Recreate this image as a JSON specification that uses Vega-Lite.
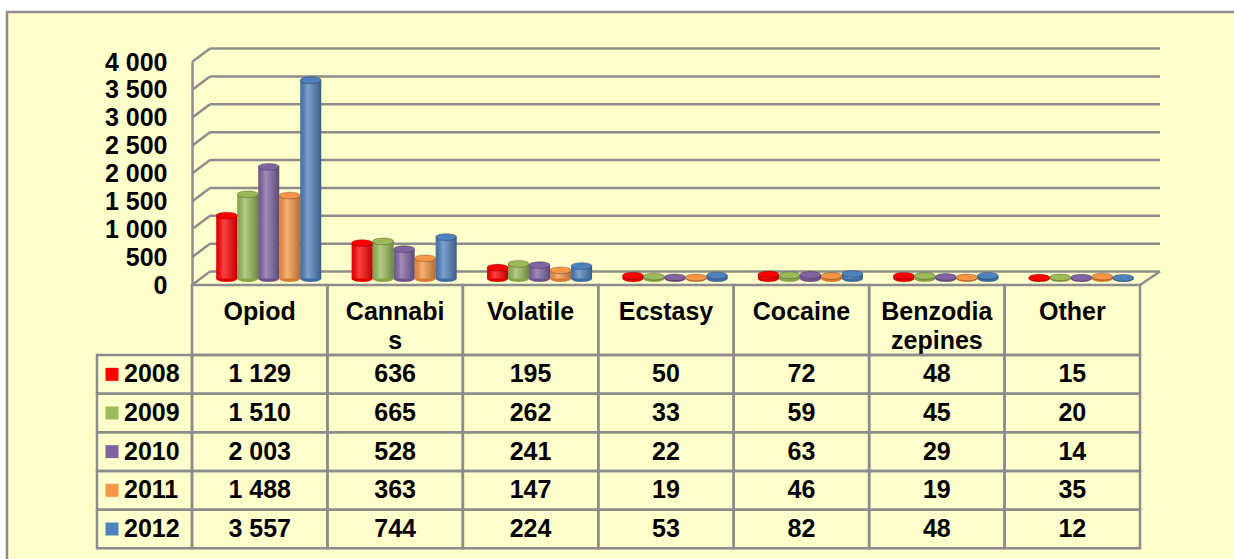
{
  "$schema": "https://vega.github.io/schema/vega-lite/v6.json",
  "width": 1232,
  "height": 552,
  "autosize": {"type": "none"},
  "padding": {"left": 7, "top": 12, "right": -5, "bottom": -5},
  "background": "#ffffff",
  "config": {
    "view": {"fill": "#FFFFCC", "stroke": "#8c8c8c", "strokeWidth": 2.5},
    "locale": {"number": {"decimal": ".", "thousands": " ", "grouping": [3], "currency": ["", ""]}},
    "font": "Liberation Sans"
  },
  "datasets": {
    "main": [
      {"cat": "Opiod", "year": "2008", "value": 1129},
      {"cat": "Opiod", "year": "2009", "value": 1510},
      {"cat": "Opiod", "year": "2010", "value": 2003},
      {"cat": "Opiod", "year": "2011", "value": 1488},
      {"cat": "Opiod", "year": "2012", "value": 3557},
      {"cat": "Cannabis", "year": "2008", "value": 636},
      {"cat": "Cannabis", "year": "2009", "value": 665},
      {"cat": "Cannabis", "year": "2010", "value": 528},
      {"cat": "Cannabis", "year": "2011", "value": 363},
      {"cat": "Cannabis", "year": "2012", "value": 744},
      {"cat": "Volatile", "year": "2008", "value": 195},
      {"cat": "Volatile", "year": "2009", "value": 262},
      {"cat": "Volatile", "year": "2010", "value": 241},
      {"cat": "Volatile", "year": "2011", "value": 147},
      {"cat": "Volatile", "year": "2012", "value": 224},
      {"cat": "Ecstasy", "year": "2008", "value": 50},
      {"cat": "Ecstasy", "year": "2009", "value": 33},
      {"cat": "Ecstasy", "year": "2010", "value": 22},
      {"cat": "Ecstasy", "year": "2011", "value": 19},
      {"cat": "Ecstasy", "year": "2012", "value": 53},
      {"cat": "Cocaine", "year": "2008", "value": 72},
      {"cat": "Cocaine", "year": "2009", "value": 59},
      {"cat": "Cocaine", "year": "2010", "value": 63},
      {"cat": "Cocaine", "year": "2011", "value": 46},
      {"cat": "Cocaine", "year": "2012", "value": 82},
      {"cat": "Benzodiazepines", "year": "2008", "value": 48},
      {"cat": "Benzodiazepines", "year": "2009", "value": 45},
      {"cat": "Benzodiazepines", "year": "2010", "value": 29},
      {"cat": "Benzodiazepines", "year": "2011", "value": 19},
      {"cat": "Benzodiazepines", "year": "2012", "value": 48},
      {"cat": "Other", "year": "2008", "value": 15},
      {"cat": "Other", "year": "2009", "value": 20},
      {"cat": "Other", "year": "2010", "value": 14},
      {"cat": "Other", "year": "2011", "value": 35},
      {"cat": "Other", "year": "2012", "value": 12}
    ],
    "ticks": [{"v": 0}, {"v": 500}, {"v": 1000}, {"v": 1500}, {"v": 2000}, {"v": 2500}, {"v": 3000}, {"v": 3500}, {"v": 4000}],
    "cats": [
      {"cat": "Opiod", "label": "Opiod"},
      {"cat": "Cannabis", "label": "Cannabi\ns"},
      {"cat": "Volatile", "label": "Volatile"},
      {"cat": "Ecstasy", "label": "Ecstasy"},
      {"cat": "Cocaine", "label": "Cocaine"},
      {"cat": "Benzodiazepines", "label": "Benzodia\nzepines"},
      {"cat": "Other", "label": "Other"}
    ],
    "years": [{"year": "2008"}, {"year": "2009"}, {"year": "2010"}, {"year": "2011"}, {"year": "2012"}]
  },
  "resolve": {"scale": {"x": "independent", "y": "independent", "color": "independent", "xOffset": "independent"}},
  "layer": [
    {
      "data": {"name": "ticks"},
      "mark": {"type": "rule", "color": "#8c8c8c", "strokeWidth": 2.5},
      "encoding": {
        "x": {"datum": "Opiod", "bandPosition": 0, "type": "nominal", "scale": {"domain": ["Opiod", "Cannabis", "Volatile", "Ecstasy", "Cocaine", "Benzodiazepines", "Other"], "range": [203, 1153], "paddingInner": 0, "paddingOuter": 0}, "axis": null},
        "x2": {"datum": "Other", "bandPosition": 1},
        "y": {"field": "v", "type": "quantitative", "scale": {"domain": [0, 4000], "range": [259.5, 36.5], "nice": false}, "axis": null}
      }
    },
    {
      "data": {"name": "ticks"},
      "mark": {"type": "rule", "color": "#8c8c8c", "strokeWidth": 2.5, "x2Offset": 18, "y2Offset": -13.5},
      "encoding": {
        "x": {"datum": "Opiod", "bandPosition": 0, "type": "nominal", "scale": {"domain": ["Opiod", "Cannabis", "Volatile", "Ecstasy", "Cocaine", "Benzodiazepines", "Other"], "range": [185, 1133], "paddingInner": 0, "paddingOuter": 0}, "axis": null},
        "x2": {"datum": "Opiod", "bandPosition": 0},
        "y": {
          "field": "v", "type": "quantitative",
          "scale": {"domain": [0, 4000], "range": [273, 50], "nice": false},
          "axis": {"orient": "left", "offset": -185, "values": [0, 500, 1000, 1500, 2000, 2500, 3000, 3500, 4000], "format": ",.0f", "ticks": false, "tickSize": 0, "labelPadding": 25, "labelFont": "Liberation Sans", "labelFontSize": 25, "labelFontWeight": "bold", "labelColor": "#000000", "domainColor": "#8c8c8c", "domainWidth": 2.5, "grid": false, "title": null, "labelOverlap": false}
        },
        "y2": {"field": "v"}
      }
    },
    {
      "data": {"name": "ticks"},
      "transform": [{"filter": "datum.v == 0"}],
      "mark": {"type": "rule", "color": "#8c8c8c", "strokeWidth": 2.5, "x2Offset": 20, "y2Offset": -13.5},
      "encoding": {
        "x": {"datum": "Other", "bandPosition": 1, "type": "nominal", "scale": {"domain": ["Opiod", "Cannabis", "Volatile", "Ecstasy", "Cocaine", "Benzodiazepines", "Other"], "range": [185, 1133], "paddingInner": 0, "paddingOuter": 0}, "axis": null},
        "x2": {"datum": "Other", "bandPosition": 1},
        "y": {"field": "v", "type": "quantitative", "scale": {"domain": [0, 4000], "range": [273, 50], "nice": false}, "axis": null},
        "y2": {"field": "v"}
      }
    },
    {
      "data": {"name": "main"},
      "mark": {"type": "point", "shape": "M-1,0C-1,-0.43,1,-0.43,1,0C1,0.43,-1,0.43,-1,0Z", "size": 441, "filled": true, "opacity": 1},
      "encoding": {
        "x": {"field": "cat", "type": "nominal", "scale": {"type": "band", "domain": ["Opiod", "Cannabis", "Volatile", "Ecstasy", "Cocaine", "Benzodiazepines", "Other"], "range": [194, 1142], "paddingInner": 0, "paddingOuter": 0}, "axis": null},
        "xOffset": {"field": "year", "type": "nominal", "scale": {"type": "band", "domain": ["2008", "2009", "2010", "2011", "2012"], "paddingInner": 0, "paddingOuter": 0.724}},
        "y": {"datum": 0, "type": "quantitative", "scale": {"domain": [0, 4000], "range": [266.5, 43.5], "nice": false}, "axis": null},
        "color": {"field": "year", "type": "nominal", "scale": {"domain": ["2008", "2009", "2010", "2011", "2012"], "range": ["#E00000", "#86A447", "#6C528C", "#D9792F", "#3C6AA3"]}, "legend": null}
      }
    },
    {
      "data": {"name": "main"},
      "mark": {"type": "bar"},
      "encoding": {
        "x": {"field": "cat", "type": "nominal", "scale": {"type": "band", "domain": ["Opiod", "Cannabis", "Volatile", "Ecstasy", "Cocaine", "Benzodiazepines", "Other"], "range": [194, 1142], "paddingInner": 0, "paddingOuter": 0}, "axis": null},
        "xOffset": {"field": "year", "type": "nominal", "scale": {"type": "band", "domain": ["2008", "2009", "2010", "2011", "2012"], "paddingInner": 0, "paddingOuter": 0.724}},
        "y": {"field": "value", "type": "quantitative", "scale": {"domain": [0, 4000], "range": [266.5, 43.5], "nice": false}, "axis": null},
        "color": {"field": "year", "type": "nominal", "scale": {"domain": ["2008", "2009", "2010", "2011", "2012"], "range": ["#FF0000", "#9BBB59", "#8064A2", "#F79646", "#4F81BD"]}, "legend": null}
      }
    },
    {
      "data": {"name": "main"},
      "mark": {"type": "bar", "fill": {"gradient": "linear", "x1": 0, "y1": 0, "x2": 1, "y2": 0, "stops": [{"offset": 0, "color": "rgba(0,0,0,0.12)"}, {"offset": 0.35, "color": "rgba(255,255,255,0.25)"}, {"offset": 1, "color": "rgba(0,0,0,0.28)"}]}},
      "encoding": {
        "x": {"field": "cat", "type": "nominal", "scale": {"type": "band", "domain": ["Opiod", "Cannabis", "Volatile", "Ecstasy", "Cocaine", "Benzodiazepines", "Other"], "range": [194, 1142], "paddingInner": 0, "paddingOuter": 0}, "axis": null},
        "xOffset": {"field": "year", "type": "nominal", "scale": {"type": "band", "domain": ["2008", "2009", "2010", "2011", "2012"], "paddingInner": 0, "paddingOuter": 0.724}},
        "y": {"field": "value", "type": "quantitative", "scale": {"domain": [0, 4000], "range": [266.5, 43.5], "nice": false}, "axis": null}
      }
    },
    {
      "data": {"name": "main"},
      "mark": {"type": "point", "shape": "M-1,0C-1,-0.43,1,-0.43,1,0C1,0.43,-1,0.43,-1,0Z", "size": 441, "filled": true, "opacity": 1, "stroke": "rgba(0,0,0,0.25)", "strokeWidth": 1},
      "encoding": {
        "x": {"field": "cat", "type": "nominal", "scale": {"type": "band", "domain": ["Opiod", "Cannabis", "Volatile", "Ecstasy", "Cocaine", "Benzodiazepines", "Other"], "range": [194, 1142], "paddingInner": 0, "paddingOuter": 0}, "axis": null},
        "xOffset": {"field": "year", "type": "nominal", "scale": {"type": "band", "domain": ["2008", "2009", "2010", "2011", "2012"], "paddingInner": 0, "paddingOuter": 0.724}},
        "y": {"field": "value", "type": "quantitative", "scale": {"domain": [0, 4000], "range": [266.5, 43.5], "nice": false}, "axis": null},
        "color": {"field": "year", "type": "nominal", "scale": {"domain": ["2008", "2009", "2010", "2011", "2012"], "range": ["#FF0000", "#9BBB59", "#8064A2", "#F79646", "#4F81BD"]}, "legend": null}
      }
    },
    {
      "data": {"name": "cats"},
      "mark": {"type": "rect", "filled": false, "stroke": "#8c8c8c", "strokeWidth": 2.5},
      "encoding": {
        "x": {"field": "cat", "type": "nominal", "scale": {"domain": ["Opiod", "Cannabis", "Volatile", "Ecstasy", "Cocaine", "Benzodiazepines", "Other"], "range": [185, 1133], "paddingInner": 0, "paddingOuter": 0}, "axis": null},
        "y": {"datum": "h", "type": "nominal", "scale": {"domain": ["h"], "range": [273, 343], "paddingInner": 0, "paddingOuter": 0}, "axis": null}
      }
    },
    {
      "data": {"name": "cats"},
      "mark": {"type": "text", "lineBreak": "\n", "font": "Liberation Sans", "fontSize": 25, "fontWeight": "bold", "color": "#000000", "baseline": "alphabetic", "align": "center", "lineHeight": 29},
      "encoding": {
        "x": {"field": "cat", "type": "nominal", "scale": {"type": "band", "domain": ["Opiod", "Cannabis", "Volatile", "Ecstasy", "Cocaine", "Benzodiazepines", "Other"], "range": [185, 1133], "paddingInner": 0, "paddingOuter": 0}, "axis": null},
        "y": {"datum": "h", "bandPosition": 0.5, "type": "nominal", "scale": {"domain": ["h"], "range": [273, 343], "paddingInner": 0, "paddingOuter": 0}, "axis": null},
        "text": {"field": "label"}
      }
    },
    {
      "data": {"name": "main"},
      "mark": {"type": "rect", "filled": false, "stroke": "#8c8c8c", "strokeWidth": 2.5},
      "encoding": {
        "x": {"field": "cat", "type": "nominal", "scale": {"domain": ["Opiod", "Cannabis", "Volatile", "Ecstasy", "Cocaine", "Benzodiazepines", "Other"], "range": [185, 1133], "paddingInner": 0, "paddingOuter": 0}, "axis": null},
        "y": {"field": "year", "type": "nominal", "scale": {"domain": ["2008", "2009", "2010", "2011", "2012"], "range": [343, 536.3], "paddingInner": 0, "paddingOuter": 0}, "axis": null}
      }
    },
    {
      "data": {"name": "main"},
      "mark": {"type": "text", "font": "Liberation Sans", "fontSize": 25, "fontWeight": "bold", "color": "#000000", "baseline": "middle", "align": "center"},
      "encoding": {
        "x": {"field": "cat", "type": "nominal", "scale": {"type": "band", "domain": ["Opiod", "Cannabis", "Volatile", "Ecstasy", "Cocaine", "Benzodiazepines", "Other"], "range": [185, 1133], "paddingInner": 0, "paddingOuter": 0}, "axis": null},
        "y": {"field": "year", "type": "nominal", "scale": {"type": "band", "domain": ["2008", "2009", "2010", "2011", "2012"], "range": [343, 536.3], "paddingInner": 0, "paddingOuter": 0}, "axis": null},
        "text": {"field": "value", "type": "quantitative", "format": ","}
      }
    },
    {
      "data": {"name": "years"},
      "mark": {"type": "rect", "filled": false, "stroke": "#8c8c8c", "strokeWidth": 2.5},
      "encoding": {
        "x": {"datum": "key", "type": "nominal", "scale": {"domain": ["key"], "range": [90, 185], "paddingInner": 0, "paddingOuter": 0}, "axis": null},
        "y": {"field": "year", "type": "nominal", "scale": {"domain": ["2008", "2009", "2010", "2011", "2012"], "range": [343, 536.3], "paddingInner": 0, "paddingOuter": 0}, "axis": null}
      }
    },
    {
      "data": {"name": "years"},
      "mark": {"type": "point", "shape": "square", "size": 169, "filled": true, "opacity": 1},
      "encoding": {
        "x": {"datum": "key", "type": "nominal", "scale": {"domain": ["key"], "range": [57.5, 152.5], "paddingInner": 0, "paddingOuter": 0}, "axis": null},
        "y": {"field": "year", "type": "nominal", "scale": {"type": "band", "domain": ["2008", "2009", "2010", "2011", "2012"], "range": [343, 536.3], "paddingInner": 0, "paddingOuter": 0}, "axis": null},
        "color": {"field": "year", "type": "nominal", "scale": {"domain": ["2008", "2009", "2010", "2011", "2012"], "range": ["#FF0000", "#9BBB59", "#8064A2", "#F79646", "#4F81BD"]}, "legend": null}
      }
    },
    {
      "data": {"name": "years"},
      "mark": {"type": "text", "font": "Liberation Sans", "fontSize": 25, "fontWeight": "bold", "color": "#000000", "baseline": "middle", "align": "left"},
      "encoding": {
        "x": {"datum": "key", "type": "nominal", "scale": {"domain": ["key"], "range": [69.5, 164.5], "paddingInner": 0, "paddingOuter": 0}, "axis": null},
        "y": {"field": "year", "type": "nominal", "scale": {"type": "band", "domain": ["2008", "2009", "2010", "2011", "2012"], "range": [343, 536.3], "paddingInner": 0, "paddingOuter": 0}, "axis": null},
        "text": {"field": "year"}
      }
    }
  ]
}
